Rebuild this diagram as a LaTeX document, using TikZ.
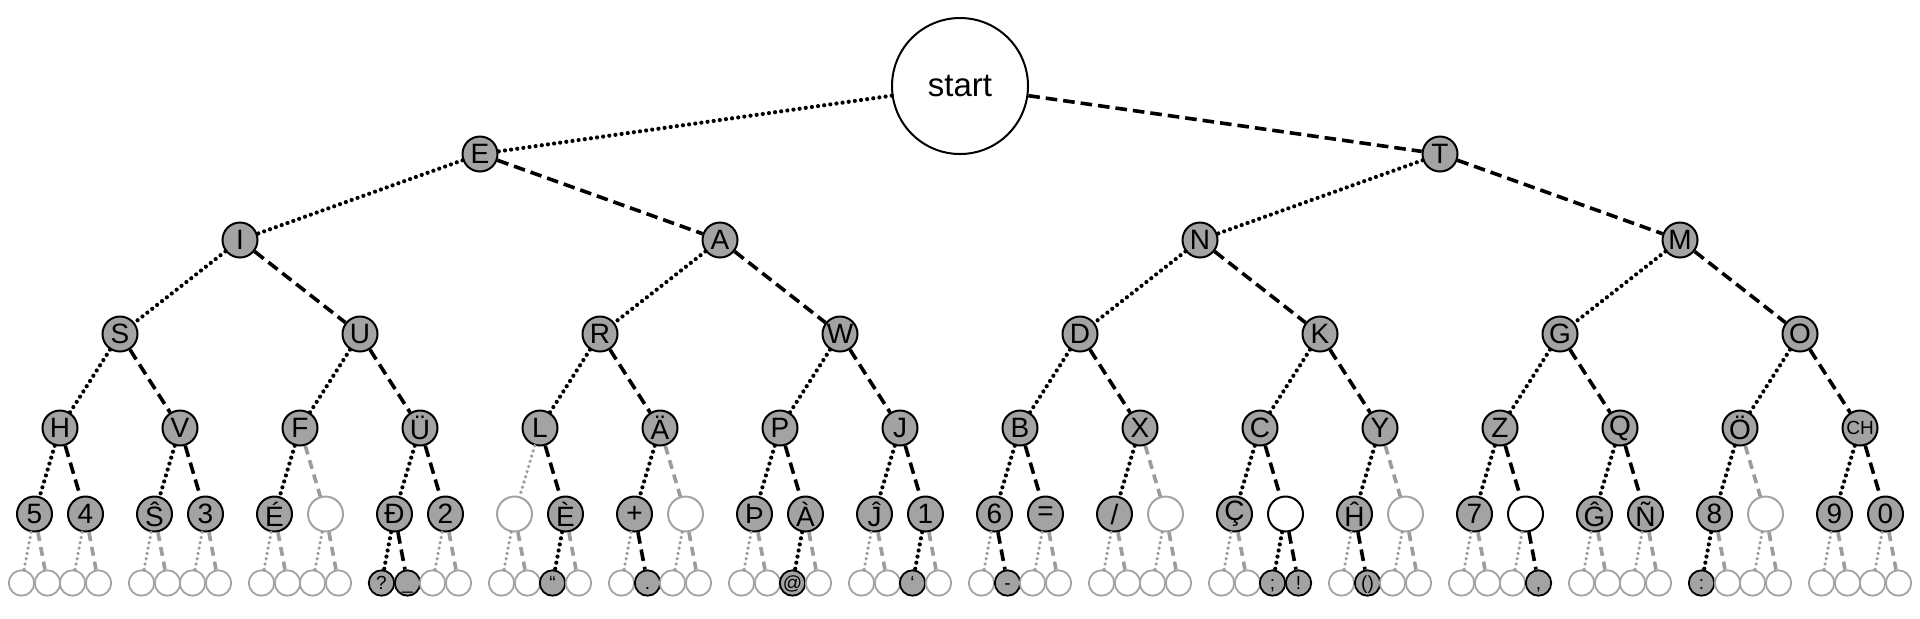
\documentclass[tikz,border=0pt]{standalone}
\usepackage{fontspec}
\setmainfont{Liberation Sans}
\definecolor{nodegray}{HTML}{A3A3A3}
\definecolor{edgegray}{HTML}{9C9C9C}
\begin{document}
\begin{tikzpicture}[x=0.5pt,y=-0.5pt,
  base/.style={circle,inner sep=0pt,line width=1pt},
  nf/.style={base,draw=black,fill=nodegray,minimum size=17.5pt,font=\fontsize{14}{14}\selectfont},
  n5f/.style={nf},
  n5e/.style={base,draw=nodegray,fill=white,minimum size=17.5pt},
  n5w/.style={base,draw=black,fill=white,minimum size=17.5pt},
  n6f/.style={base,line width=0.9pt,draw=black,fill=nodegray,minimum size=12.7pt,
    font=\fontsize{9.5}{9.5}\selectfont,text height=6.8pt,text depth=0pt},
  n6e/.style={base,line width=0.9pt,draw=nodegray,fill=white,minimum size=12.7pt},
  ditf/.style={draw=black,line width=2.1pt,line cap=round,dash pattern=on 0pt off 3.1pt},
  dahf/.style={draw=black,line width=1.8pt,dash pattern=on 5.8pt off 3pt},
  ditw/.style={ditf}, dahw/.style={dahf},
  dite/.style={draw=edgegray,line width=1.8pt,line cap=round,dash pattern=on 0pt off 2.7pt},
  dahe/.style={draw=edgegray,line width=1.8pt,dash pattern=on 4.5pt off 3pt}]
\useasboundingbox (0,0) rectangle (1920,618);
\node[base,draw=black,minimum size=68pt,font=\fontsize{16.5}{16.5}\selectfont] (L0-0) at (960,86) {start};
% level 1
\foreach \t [count=\i from 0] in {E,T} {
  \node[nf] (L1-\i) at ({480+960*\i},154) {\t};
  \edef\est{\ifodd\i dah\else dit\fi f}
  \draw[\est] (L0-0) -- (L1-\i);
}
% level 2
\foreach \t [count=\i from 0] in {I,A,N,M} {
  \pgfmathtruncatemacro\p{floor(\i/2)}
  \node[nf] (L2-\i) at ({240+480*\i},240) {\t};
  \edef\est{\ifodd\i dah\else dit\fi f}
  \draw[\est] (L1-\p) -- (L2-\i);
}
% level 3
\foreach \t [count=\i from 0] in {S,U,R,W,D,K,G,O} {
  \pgfmathtruncatemacro\p{floor(\i/2)}
  \node[nf] (L3-\i) at ({120+240*\i},334) {\t};
  \edef\est{\ifodd\i dah\else dit\fi f}
  \draw[\est] (L2-\p) -- (L3-\i);
}
% level 4
\foreach \t [count=\i from 0] in {H,V,F,Ü,L,Ä,P,J,B,X,C,Y,Z,Q,Ö,{{\fontsize{9.5}{9.5}\selectfont CH}}} {
  \pgfmathtruncatemacro\p{floor(\i/2)}
  \node[nf] (L4-\i) at ({60+120*\i},428) {\t};
  \edef\est{\ifodd\i dah\else dit\fi f}
  \draw[\est] (L3-\p) -- (L4-\i);
}
% level 5
\foreach \s/\t [count=\i from 0] in {
  f/5,f/4,f/Ŝ,f/3,f/É,e/{},f/Đ,f/2,
  e/{},f/È,f/+,e/{},f/Þ,f/À,f/Ĵ,f/1,
  f/6,f/=,f/{/},e/{},f/Ç,w/{},f/Ĥ,e/{},
  f/7,w/{},f/Ĝ,f/Ñ,f/8,e/{},f/9,f/0} {
  \pgfmathtruncatemacro\p{floor(\i/2)}
  \pgfmathsetmacro\xx{60+120*\p-25.5+51*mod(\i,2)}
  \node[n5\s] (L5-\i) at (\xx,514) {\t};
  \edef\est{\ifodd\i dah\else dit\fi\s}
  \draw[\est] (L4-\p) -- (L5-\i);
}
% level 6
\foreach \s/\t [count=\i from 0] in {
  e/{},e/{},e/{},e/{},e/{},e/{},e/{},e/{},
  e/{},e/{},e/{},e/{},f/?,f/\_,e/{},e/{},
  e/{},e/{},f/“,e/{},e/{},f/.,e/{},e/{},
  e/{},e/{},f/@,e/{},e/{},e/{},f/‘,e/{},
  e/{},f/-,e/{},e/{},e/{},e/{},e/{},e/{},
  e/{},e/{},f/;,f/!,e/{},f/(),e/{},e/{},
  e/{},e/{},e/{},f/{,},e/{},e/{},e/{},e/{},
  f/:,e/{},e/{},e/{},e/{},e/{},e/{},e/{}} {
  \pgfmathtruncatemacro\p{floor(\i/2)}
  \pgfmathtruncatemacro\q{floor(\p/2)}
  \pgfmathsetmacro\xx{60+120*\q-25.5+51*mod(\p,2)-13+26*mod(\i,2)}
  \node[n6\s] (L6-\i) at (\xx,583) {\t};
  \edef\est{\ifodd\i dah\else dit\fi\s}
  \draw[\est] (L5-\p) -- (L6-\i);
}
\end{tikzpicture}
\end{document}
